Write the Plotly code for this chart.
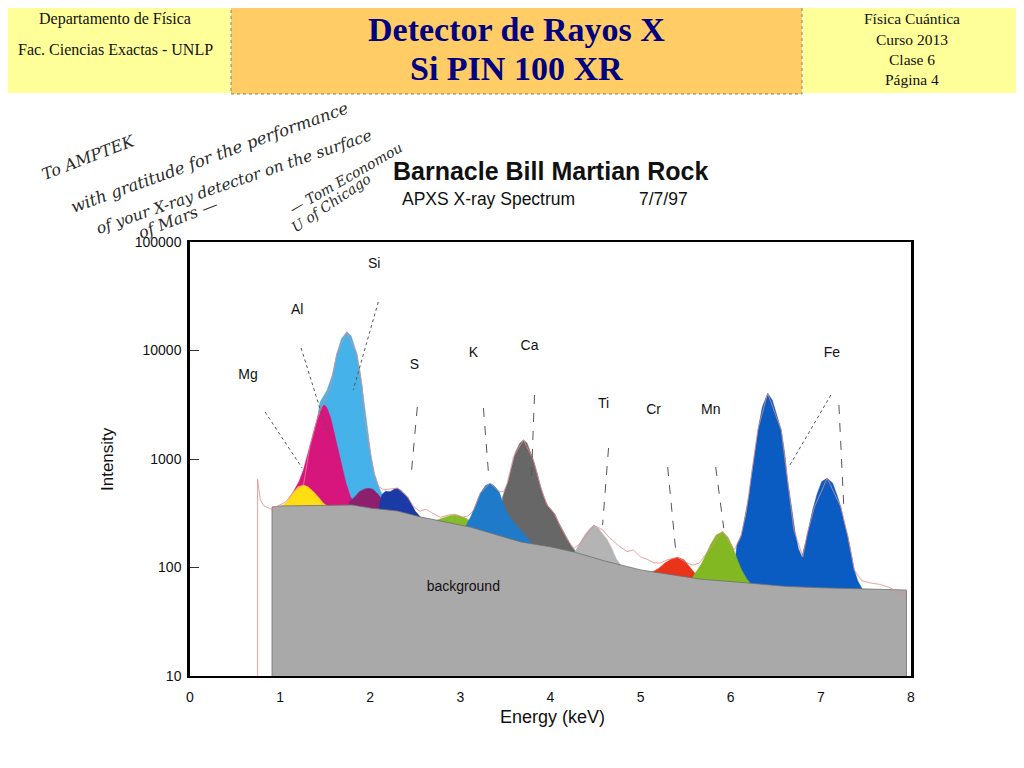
import plotly.graph_objects as go

# ---------------- data ----------------
BG_E = [0.91, 0.91, 1.0, 1.5, 1.8, 2.0, 2.3, 2.56, 3.11, 3.67, 4.0, 4.26, 4.6, 5.0, 5.15, 5.67, 6.19, 6.6, 7.0, 7.5, 7.95, 7.95]
BG_I = [10, 361, 369, 377, 377, 353, 332, 292, 236, 172, 155, 139, 115, 95, 91, 78, 72, 67, 65, 63, 62, 10]

SI_E = [1.30, 1.38, 1.44, 1.52, 1.58, 1.63, 1.68, 1.74, 1.79, 1.85, 1.89, 1.92, 1.95, 1.98, 2.01, 2.05, 2.10, 2.16, 2.22]
SI_I = [360, 1400, 3300, 4300, 6000, 9400, 12800, 14900, 13500, 9400, 6200, 4000, 2300, 1500, 1050, 720, 540, 420, 340]

AL_E = [1.05, 1.10, 1.16, 1.21, 1.26, 1.30, 1.34, 1.38, 1.42, 1.46, 1.49, 1.52, 1.56, 1.61, 1.65, 1.69, 1.73, 1.78, 1.84]
AL_I = [360, 430, 520, 620, 800, 1050, 1400, 1900, 2500, 3000, 3150, 2950, 2400, 1600, 1130, 800, 600, 450, 380]

MG_E = [1.00, 1.06, 1.11, 1.15, 1.20, 1.26, 1.31, 1.37, 1.43, 1.48, 1.52]
MG_I = [365, 391, 440, 500, 555, 575, 555, 500, 440, 391, 370]

PU_E = [1.76, 1.82, 1.88, 1.94, 1.98, 2.03, 2.09, 2.15, 2.22, 2.28]
PU_I = [400, 440, 500, 530, 537, 525, 470, 403, 363, 330]

S_E = [2.10, 2.13, 2.17, 2.22, 2.27, 2.30, 2.34, 2.38, 2.42, 2.46, 2.50, 2.56]
S_I = [370, 470, 505, 500, 530, 537, 515, 480, 440, 380, 330, 290]

P_E = [2.72, 2.80, 2.88, 2.94, 3.00, 3.06, 3.12, 3.18]
P_I = [270, 285, 300, 305, 298, 285, 265, 230]

CA_E = [3.42, 3.47, 3.50, 3.53, 3.57, 3.61, 3.66, 3.70, 3.74, 3.78, 3.81, 3.85, 3.89, 3.93, 3.97, 4.01, 4.05, 4.09, 4.13, 4.18, 4.23, 4.30]
CA_I = [190, 450, 530, 620, 850, 1150, 1400, 1497, 1400, 1150, 980, 750, 556, 440, 370, 340, 310, 260, 225, 185, 158, 134]

K_E = [3.06, 3.12, 3.17, 3.22, 3.28, 3.33, 3.38, 3.43, 3.47, 3.52, 3.58, 3.65, 3.72, 3.80]
K_I = [240, 300, 380, 483, 570, 597, 560, 500, 400, 320, 270, 230, 195, 165]

TI_E = [4.26, 4.32, 4.38, 4.44, 4.48, 4.53, 4.58, 4.63, 4.68, 4.73, 4.78]
TI_I = [135, 165, 200, 230, 245, 230, 205, 180, 150, 120, 105]

CR_E = [5.12, 5.20, 5.27, 5.34, 5.41, 5.48, 5.55, 5.62, 5.68]
CR_I = [90, 98, 110, 120, 124, 118, 100, 85, 78]

FE_E = [6.02, 6.07, 6.12, 6.17, 6.20, 6.23, 6.27, 6.31, 6.35, 6.41, 6.46, 6.51, 6.56, 6.60, 6.63, 6.67, 6.71,
        6.75, 6.79, 6.83, 6.87, 6.91, 6.96, 7.01, 7.07, 7.13, 7.18, 7.22, 7.26, 7.30, 7.34, 7.37, 7.41, 7.46]
FE_I = [72, 165, 200, 316, 450, 700, 1200, 2000, 3000, 4030, 3500, 2600, 1850, 1100, 640, 380, 220,
        150, 125, 170, 240, 340, 480, 620, 664, 600, 460, 363, 260, 192, 130, 95, 75, 63]

MN_E = [5.58, 5.63, 5.68, 5.73, 5.78, 5.84, 5.91, 5.97, 6.02, 6.07, 6.12, 6.18, 6.22]
MN_I = [82, 95, 110, 135, 165, 200, 214, 190, 155, 120, 95, 78, 71]

MEAS_E = [0.75, 0.75, 0.78, 0.82, 0.90, 1.00, 1.06, 1.15, 1.26, 1.33, 1.41, 1.48, 1.56, 1.63, 1.74, 1.85, 1.91,
          1.94, 2.00, 2.04, 2.09, 2.15, 2.30, 2.41, 2.48, 2.55, 2.62, 2.68, 2.78, 2.87, 2.94, 3.02, 3.09, 3.15,
          3.22, 3.33, 3.43, 3.48, 3.52, 3.59, 3.70, 3.81, 3.89, 3.96, 4.04, 4.11, 4.19, 4.26, 4.33, 4.48, 4.58,
          4.65, 4.75, 4.85, 4.92, 5.00, 5.08, 5.15, 5.22, 5.30, 5.41, 5.50, 5.58, 5.65, 5.76, 5.91, 6.04, 6.11,
          6.17, 6.22, 6.30, 6.41, 6.56, 6.63, 6.70, 6.80, 6.85, 6.93, 7.07, 7.22, 7.30, 7.37, 7.45, 7.55, 7.65,
          7.75, 7.85, 7.92, 7.95]
MEAS_I = [10, 650, 420, 370, 345, 375, 400, 500, 580, 1300, 2300, 3300, 4700, 9400, 14900, 9400, 4640,
          2290, 1135, 740, 560, 520, 540, 450, 365, 330, 345, 320, 290, 305, 310, 290, 300, 340,
          483, 600, 500, 500, 600, 1050, 1500, 980, 556, 377, 316, 238, 179, 150, 167, 245, 222,
          190, 160, 140, 145, 125, 118, 110, 110, 118, 124, 112, 105, 110, 145, 216, 145, 190,
          316, 640, 1850, 4030, 1850, 640, 222, 125, 207, 363, 664, 363, 192, 95, 76, 72, 70,
          66, 60, 55, 62]

LABELS = ["Mg", "Al", "Si", "S", "K", "Ca", "Ti", "Cr", "Mn", "Fe"]
LABEL_E = [0.644, 1.189, 2.044, 2.489, 3.144, 3.767, 4.589, 5.144, 5.778, 7.122]
LABEL_I = [5940, 23600, 62700, 7200, 9290, 11000, 3210, 2770, 2770, 9480]

# leader lines: (E1, I1, E2, I2)
LEAD_DOT = [(0.833, 2710, 1.244, 826), (1.233, 10540, 1.53, 1700), (2.089, 28000, 1.811, 4320),
            (7.111, 3890, 6.644, 844)]
LEAD_DASH = [(2.522, 3015, 2.456, 743), (3.256, 2950, 3.311, 759), (3.822, 3890, 3.789, 682),
             (4.644, 1262, 4.578, 246), (5.30, 844, 5.389, 145), (5.833, 844, 5.922, 231),
             (7.20, 3145, 7.256, 339)]

X_TICKS = [0, 1, 2, 3, 4, 5, 6, 7, 8]
Y_TICKS = [10, 100, 1000, 10000, 100000]
Y_TICK_TEXT = ["10", "100", "1000", "10000", "100000"]

# ---------------- figure ----------------
OFF = 8                      # page offset of the figure in the browser
W, H = 1024 - OFF, 768 - OFF
L, R, T, B = 190, 911, 242, 676   # plot area in screen pixels


def px(x):
    return (x - L) / (R - L)


def py(y):
    return (B - y) / (B - T)


fig = go.Figure()


def peak(xs, ys, color):
    fig.add_trace(go.Scatter(
        x=list(xs) + [xs[-1], xs[0]], y=list(ys) + [10, 10],
        fill="toself", fillcolor=color, mode="lines",
        line=dict(color=color, width=0.5), hoverinfo="skip", showlegend=False))


peak(SI_E, SI_I, "#45b2ea")
peak(AL_E, AL_I, "#d6157d")
peak(MG_E, MG_I, "#ffdf14")
peak(PU_E, PU_I, "#8e1f6e")
peak(S_E, S_I, "#1a3aa6")
peak(P_E, P_I, "#86bb2a")
peak(CA_E, CA_I, "#676767")
peak(K_E, K_I, "#1f7bc9")
peak(TI_E, TI_I, "#b4b4b4")
peak(CR_E, CR_I, "#ea3419")
peak(FE_E, FE_I, "#0b5cc2")
peak(MN_E, MN_I, "#82b922")

# background continuum
fig.add_trace(go.Scatter(x=BG_E, y=BG_I, fill="toself", fillcolor="#a9a9a9", mode="lines",
                         line=dict(color="#6f6f6f", width=0.8), hoverinfo="skip", showlegend=False))

# measured spectrum (thin pink line)
fig.add_trace(go.Scatter(x=MEAS_E, y=MEAS_I, mode="lines", line=dict(color="#e58a8a", width=0.8),
                         hoverinfo="skip", showlegend=False))


def leaders(segs, dash):
    xs, ys = [], []
    for e1, i1, e2, i2 in segs:
        xs += [e1, e2, None]
        ys += [i1, i2, None]
    fig.add_trace(go.Scatter(x=xs, y=ys, mode="lines", line=dict(color="#555555", width=1, dash=dash),
                             hoverinfo="skip", showlegend=False))


leaders(LEAD_DOT, "dot")
leaders(LEAD_DASH, "dash")

sans = "Liberation Sans"
fig.add_trace(go.Scatter(x=LABEL_E, y=LABEL_I, mode="text", text=LABELS,
                         textfont=dict(family=sans, size=14, color="#111111"),
                         hoverinfo="skip", showlegend=False))
fig.add_trace(go.Scatter(x=[3.033], y=[66], mode="text", text=["background"],
                         textfont=dict(family=sans, size=14, color="#111111"),
                         hoverinfo="skip", showlegend=False))

shapes = []
# header boxes
shapes.append(dict(type="rect", xref="paper", yref="paper", x0=px(-10), x1=px(230), y0=py(93), y1=py(-10),
                   fillcolor="#ffff99", line=dict(width=0), layer="below"))
shapes.append(dict(type="rect", xref="paper", yref="paper", x0=px(803), x1=px(1030), y0=py(93), y1=py(-10),
                   fillcolor="#ffff99", line=dict(width=0), layer="below"))
shapes.append(dict(type="rect", xref="paper", yref="paper", x0=px(231), x1=px(802), y0=py(94), y1=py(-10),
                   fillcolor="#ffcc66", line=dict(width=1, color="#8c8050", dash="dot"), layer="below"))
fig.update_layout(shapes=shapes)

ann = []
serif = "Liberation Serif"


def text(x, y, s, size, family=serif, color="#111111", angle=0, bold=False, xanchor="center"):
    ann.append(dict(xref="paper", yref="paper", x=px(x), y=py(y), text=("<b>%s</b>" % s) if bold else s,
                    showarrow=False, xanchor=xanchor, yanchor="middle", textangle=angle, borderpad=0,
                    font=dict(family=family, size=size, color=color)))


text(115, 19, "Departamento de Física", 16)
text(115, 49, "Fac. Ciencias Exactas - UNLP", 16)
text(516, 30, "Detector de Rayos X", 34, color="#000080", bold=True)
text(516, 68, "Si PIN 100 XR", 34, color="#000080", bold=True)
text(912, 19, "Física Cuántica", 15.5)
text(912, 39, "Curso 2013", 15.5)
text(912, 59, "Clase 6", 15.5)
text(912, 79, "Página 4", 15.5)

text(392, 171, "<b>Barnacle Bill Martian Rock</b>", 25, family=sans, xanchor="left")
text(401, 199, "APXS X-ray Spectrum", 17.5, family=sans, xanchor="left")
text(638, 199, "7/7/97", 17.5, family=sans, xanchor="left")
text(107, 459, "Intensity", 17, family=sans, angle=-90)
text(552, 717, "Energy (keV)", 18, family=sans)

hand = "DejaVu Serif"
hc = "#2a2a2a"
text(88, 157, "<i>To AMPTEK</i>", 16, family=hand, color=hc, angle=-21)
text(210, 158, "<i>with gratitude for the performance</i>", 16.5, family=hand, color=hc, angle=-20)
text(234, 182, "<i>of your X-ray detector on the surface</i>", 15.5, family=hand, color=hc, angle=-19)
text(178, 218, "<i>of Mars —</i>", 16, family=hand, color=hc, angle=-21)
text(346, 178, "<i>— Tom Economou</i>", 14, family=hand, color=hc, angle=-30)
text(331, 203, "<i>U of Chicago</i>", 14, family=hand, color=hc, angle=-34)

fig.update_layout(
    width=W, height=H, annotations=ann,
    margin=dict(l=L - OFF, r=W - (R - OFF), t=T - OFF, b=H - (B - OFF), pad=0),
    paper_bgcolor="white", plot_bgcolor="white",
    xaxis=dict(range=[0, 8], tickvals=X_TICKS, showgrid=False, zeroline=False, showline=True,
               linecolor="black", linewidth=2, mirror=True, ticks="",
               tickfont=dict(family=sans, size=14, color="#111111"), ticklabelstandoff=7),
    yaxis=dict(type="log", range=[1, 5], tickvals=Y_TICKS, ticktext=Y_TICK_TEXT, showgrid=False,
               zeroline=False, showline=True, linecolor="black", linewidth=2.5, mirror=True,
               ticks="inside", ticklen=9, tickcolor="#333333",
               tickfont=dict(family=sans, size=14, color="#111111"), ticklabelstandoff=3),
)

fig.write_html("out.html")
